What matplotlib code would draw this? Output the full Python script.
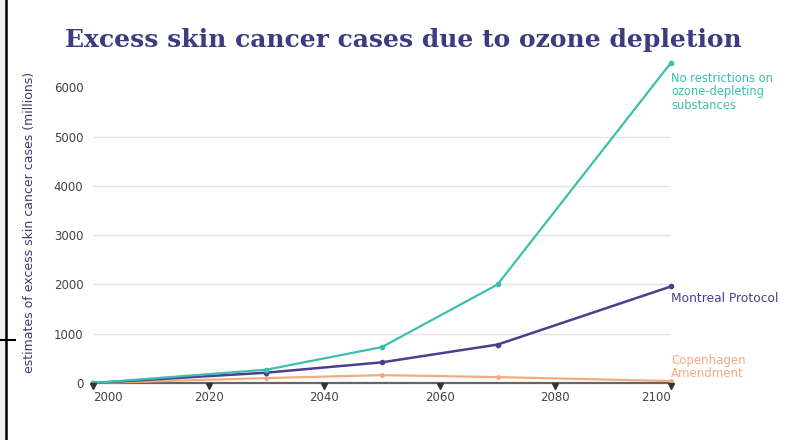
import matplotlib
matplotlib.use("Agg")
import matplotlib.pyplot as plt
from matplotlib.lines import Line2D
from matplotlib.patches import Rectangle
from matplotlib.transforms import offset_copy

# Excess skin cancer cases (millions) under three policy scenarios
years = [2000, 2030, 2050, 2070, 2100]
no_restrictions = [0, 270, 730, 2000, 6500]
montreal = [0, 210, 420, 780, 1960]
copenhagen = [0, 100, 160, 120, 40]

x_ticks = [2000, 2020, 2040, 2060, 2080, 2100]
y_ticks = [0, 1000, 2000, 3000, 4000, 5000, 6000]

TEAL = "#3dbfae"
PURPLE = "#4a3f8e"
PEACH = "#f2ab80"
TITLE_COL = "#3f3b80"
LABEL_COL = "#3b3a70"

fig = plt.figure(figsize=(7.95, 4.40), dpi=100)
ax = fig.add_axes([0.117, 0.1295, 0.727, 0.728])

ax.plot(years, copenhagen, color=PEACH, lw=1.6, marker="o", ms=2.5, clip_on=False, zorder=3)
ax.plot(years, montreal, color=PURPLE, lw=1.8, marker="o", ms=3, clip_on=False, zorder=4)
ax.plot(years, no_restrictions, color=TEAL, lw=1.6, marker="o", ms=3, clip_on=False, zorder=5)

ax.set_xlim(2000, 2100)
ax.set_ylim(0, 6500)
ax.set_xticks(x_ticks)
ax.set_yticks(y_ticks)
ax.tick_params(axis="y", length=0, pad=7, labelsize=8.5, labelcolor="#444444")
ax.tick_params(axis="x", length=0, pad=6, labelsize=8.5, labelcolor="#444444")
xlabels = ax.get_xticklabels()
xlabels[0].set_horizontalalignment("left")
xlabels[-1].set_horizontalalignment("right")

ax.yaxis.grid(True, color="#e4e4e4", lw=1)
for i, gl in enumerate(ax.get_ygridlines()):
    gl.set_visible(0 < i < len(y_ticks) - 1)

for s in ["top", "right", "left"]:
    ax.spines[s].set_visible(False)
ax.spines["bottom"].set_color("#666666")
ax.spines["bottom"].set_linewidth(1.6)

# small triangle tick markers hanging under the axis
tri_trans = offset_copy(ax.get_xaxis_transform(), fig=fig, y=-2.2, units="points")
ax.plot(x_ticks, [0] * len(x_ticks), ls="none", marker="v", ms=4, color="#333333",
        transform=tri_trans, clip_on=False, zorder=6)

ax.set_ylabel("estimates of excess skin cancer cases (millions)", fontsize=9,
              color=LABEL_COL, labelpad=13)

# end-of-line labels
ax.text(2100, no_restrictions[-1] - 180, "No restrictions on\nozone-depleting\nsubstances",
        color=TEAL, fontsize=8.3, va="top", ha="left", linespacing=1.05)
ax.text(2100, montreal[-1] - 250, "Montreal Protocol", color=PURPLE, fontsize=8.8,
        va="center", ha="left")
ax.text(2100, copenhagen[-1] + 280, "Copenhagen\nAmendment", color=PEACH, fontsize=8.5,
        va="center", ha="left", linespacing=1.0)

fig.text(0.507, 0.909, "Excess skin cancer cases due to ozone depletion",
         fontsize=18, fontweight="bold", family="DejaVu Serif", color=TITLE_COL,
         ha="center", va="center")

# screenshot frame on the left
fig.add_artist(Rectangle((0, 0), 0.007, 1, color="#f2f2f2", transform=fig.transFigure, lw=0))
fig.add_artist(Line2D([0.008, 0.008], [0, 1], color="black", lw=1.8, transform=fig.transFigure))
fig.add_artist(Line2D([0, 0.019], [0.227, 0.227], color="black", lw=1.5, transform=fig.transFigure))

plt.savefig("out.png", dpi=100)
